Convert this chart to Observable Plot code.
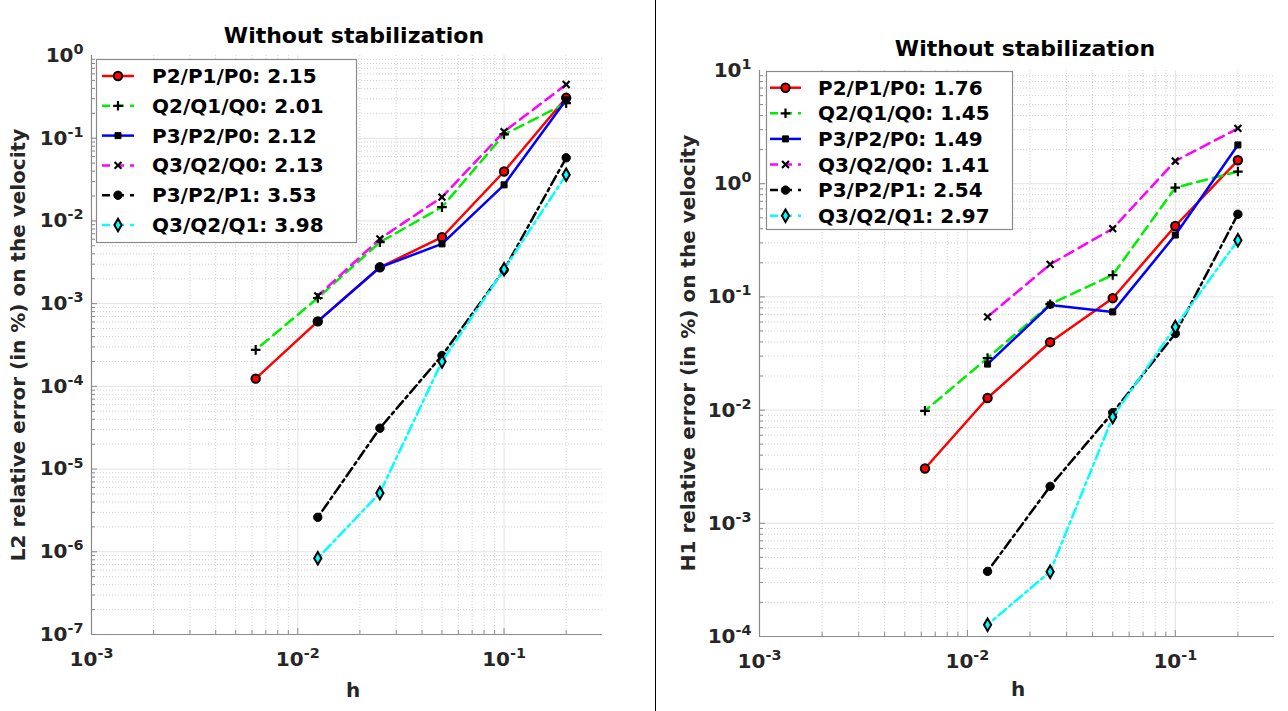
<!DOCTYPE html>
<html><head><meta charset="utf-8">
<script src="https://cdn.jsdelivr.net/npm/d3@7"></script>
<script src="https://cdn.jsdelivr.net/npm/@observablehq/plot@0.6"></script>
<style>
html,body{margin:0;padding:0;background:#fff;}
#root{position:relative;width:1288px;height:711px;overflow:hidden;font-family:"DejaVu Sans",sans-serif;}
#root > svg{position:absolute;}
</style></head><body><div id="root"></div>
<script>
// ---- data ----
const hValues = [0.2, 0.1, 0.05, 0.025, 0.0125, 0.00625];
const seriesNames = ["P2/P1/P0", "Q2/Q1/Q0", "P3/P2/P0", "Q3/Q2/Q0", "P3/P2/P1", "Q3/Q2/Q1"];

const l2_P2P1P0 = [0.308, 0.0396, 0.00635, 0.00275, 6.1e-4, 1.24e-4];
const l2_Q2Q1Q0 = [0.265, 0.111, 0.0147, 0.00553, 1.17e-3, 2.76e-4];
const l2_P3P2P0 = [0.291, 0.0273, 0.00528, 0.00275, 6.1e-4, null];
const l2_Q3Q2Q0 = [0.446, 0.12, 0.0194, 0.00607, 1.24e-3, null];
const l2_P3P2P1 = [0.058, 0.00256, 2.36e-4, 3.12e-5, 2.61e-6, null];
const l2_Q3Q2Q1 = [0.0361, 0.0026, 2.0e-4, 5.15e-6, 8.35e-7, null];
const l2Rates = ["2.15", "2.01", "2.12", "2.13", "3.53", "3.98"];

const h1_P2P1P0 = [1.61, 0.423, 0.0974, 0.0398, 0.0128, 3.05e-3];
const h1_Q2Q1Q0 = [1.28, 0.922, 0.156, 0.0862, 0.0288, 9.86e-3];
const h1_P3P2P0 = [2.2, 0.352, 0.0737, 0.085, 0.0255, null];
const h1_Q3Q2Q0 = [3.08, 1.585, 0.401, 0.194, 0.0666, null];
const h1_P3P2P1 = [0.537, 0.0474, 9.5e-3, 2.12e-3, 3.76e-4, null];
const h1_Q3Q2Q1 = [0.316, 0.0543, 8.7e-3, 3.74e-4, 1.27e-4, null];
const h1Rates = ["1.76", "1.45", "1.49", "1.41", "2.54", "2.97"];

const xTicks = [1e-3, 1e-2, 1e-1];
const l2YTicks = [1e-7, 1e-6, 1e-5, 1e-4, 1e-3, 1e-2, 1e-1, 1];
const h1YTicks = [1e-4, 1e-3, 1e-2, 1e-1, 1, 10];
const titleText = "Without stabilization";
const xLabel = "h";
const l2YLabel = "L2 relative error (in %) on the velocity";
const h1YLabel = "H1 relative error (in %) on the velocity";

// ---- styles ----
const seriesStyles = [
  {color: "#ff0000", dash: null,          symbol: "circle",  fill: "#ff0000", stroke: "#000", r: 4.2, sw: 2},
  {color: "#00ee00", dash: "10,6",        symbol: "plus",    fill: "none",    stroke: "#000", r: 3.2, sw: 2.2},
  {color: "#0000ff", dash: null,          symbol: "square",  fill: "#000",    stroke: "#000", r: 3.4, sw: 1},
  {color: "#ff00ff", dash: "10,6",        symbol: "times",   fill: "none",    stroke: "#000", r: 3.2, sw: 2.2},
  {color: "#000000", dash: "10,4,3,4",    symbol: "circle",  fill: "#000",    stroke: "#000", r: 4.2, sw: 1},
  {color: "#00ffff", dash: "10,4,3,4",    symbol: "diamond", fill: "#00ffff", stroke: "#000", r: 3.8, sw: 2}
];
const FONT = "DejaVu Sans";
const root = document.getElementById("root");

function minorTicks(lo, hi) {
  const out = [];
  for (let e = Math.floor(Math.log10(lo)); e < Math.ceil(Math.log10(hi)); e++)
    for (let m = 2; m <= 9; m++) { const v = +(m * Math.pow(10, e)).toPrecision(6); if (v > lo && v < hi) out.push(v); }
  return out;
}

function makePanel(cfg) {
  const rows = [];
  cfg.series.forEach((arr, s) => arr.forEach((v, i) => { if (v != null) rows.push({h: hValues[i], v, s}); }));
  const fw = cfg.width - cfg.ml - cfg.mr, fh = cfg.height - cfg.mt - cfg.mb;
  const xd = [1e-3, 0.3];
  const yd = [cfg.yTicks[0], cfg.yTicks[cfg.yTicks.length - 1]];
  const xMinor = minorTicks(xd[0], xd[1]);
  const yMinor = minorTicks(yd[0], yd[1]);
  const xMajor = xTicks.filter(d => d > xd[0]);
  const yMajor = cfg.yTicks.filter(d => d > yd[0] && d < yd[1]);
  const marks = [
    Plot.ruleX(xMinor, {stroke: "#d2d2d2", strokeDasharray: "1,2"}),
    Plot.ruleY(yMinor, {stroke: "#d2d2d2", strokeDasharray: "1,2"}),
    Plot.ruleX(xMajor, {stroke: "#e2e2e2"}),
    Plot.ruleY(yMajor, {stroke: "#e2e2e2"}),
    Plot.ruleX([xd[0]], {stroke: "#8a8a8a", strokeWidth: 1.2}),
    Plot.ruleY([yd[0]], {stroke: "#8a8a8a", strokeWidth: 1.2}),
    Plot.ruleX(xMajor, {stroke: "#8a8a8a", insetTop: fh - 6}),
    Plot.ruleX(xMinor, {stroke: "#8a8a8a", insetTop: fh - 4}),
    Plot.ruleY(yMajor, {stroke: "#8a8a8a", insetRight: fw - 6}),
    Plot.ruleY(yMinor, {stroke: "#8a8a8a", insetRight: fw - 4})
  ];
  seriesStyles.forEach((st, s) => {
    const d = rows.filter(r => r.s === s);
    marks.push(Plot.line(d, {x: "h", y: "v", stroke: st.color, strokeWidth: 2.5, strokeDasharray: st.dash || undefined}));
    marks.push(Plot.dot(d, {x: "h", y: "v", symbol: () => st.symbol, r: st.r, fill: st.fill, stroke: st.stroke, strokeWidth: st.sw}));
  });
  marks.push(Plot.axisX(xTicks, {label: null, tickSize: 0, tickPadding: 17, tickFormat: d => "10^" + Math.round(Math.log10(d)), fill: "#262626"}));
  marks.push(Plot.axisY(cfg.yTicks, {label: null, tickSize: 0, tickPadding: 8, tickFormat: d => "10^" + Math.round(Math.log10(d)), fill: "#262626"}));
  const svg = Plot.plot({
    width: cfg.width, height: cfg.height,
    marginLeft: cfg.ml, marginRight: cfg.mr, marginTop: cfg.mt, marginBottom: cfg.mb,
    x: {type: "log", domain: xd, label: null},
    y: {type: "log", domain: yd, label: null},
    style: {fontFamily: FONT, fontSize: "20px", fontWeight: "bold", background: "transparent", overflow: "visible"},
    marks
  });
  d3.select(svg).selectAll('g[aria-label="x-axis tick label"] text, g[aria-label="y-axis tick label"] text').each(function () {
    const m = this.textContent.match(/^10\^(-?\d+)$/);
    if (!m) return;
    const t = d3.select(this);
    t.text(null);
    t.append("tspan").text("10");
    t.append("tspan").attr("dy", "-0.55em").attr("font-size", "0.72em").text(m[1]);
  });
  svg.style.left = cfg.left + "px";
  svg.style.top = "0px";
  root.appendChild(svg);
}

makePanel({left: 0, width: 655, height: 711, ml: 91, mr: 53, mt: 55, mb: 77,
  yTicks: l2YTicks, series: [l2_P2P1P0, l2_Q2Q1Q0, l2_P3P2P0, l2_Q3Q2Q0, l2_P3P2P1, l2_Q3Q2Q1]});
makePanel({left: 656, width: 632, height: 711, ml: 103, mr: 14, mt: 70, mb: 75,
  yTicks: h1YTicks, series: [h1_P2P1P0, h1_Q2Q1Q0, h1_P3P2P0, h1_Q3Q2Q0, h1_P3P2P1, h1_Q3Q2Q1]});

// ---- overlay: titles, labels, legends, divider ----
const ov = d3.select(root).append("svg").attr("width", 1288).attr("height", 711)
  .style("left", "0px").style("top", "0px")
  .attr("font-family", FONT).attr("font-weight", "bold");
ov.append("line").attr("x1", 655.5).attr("x2", 655.5).attr("y1", 0).attr("y2", 711).attr("stroke", "#000").attr("stroke-width", 1);

function labels(cx, ty, yl, ylx, yly, xlx, xly) {
  ov.append("text").attr("x", cx).attr("y", ty).attr("text-anchor", "middle").attr("dominant-baseline", "central")
    .attr("font-size", 22).attr("fill", "#000").text(titleText);
  ov.append("text").attr("transform", `translate(${ylx},${yly}) rotate(-90)`).attr("text-anchor", "middle")
    .attr("dominant-baseline", "central").attr("font-size", 20).attr("fill", "#262626").text(yl);
  ov.append("text").attr("x", xlx).attr("y", xly).attr("text-anchor", "middle").attr("dominant-baseline", "central")
    .attr("font-size", 20).attr("fill", "#262626").text(xLabel);
}
labels(354, 35, l2YLabel, 18, 345, 353, 690);
labels(1025, 48, h1YLabel, 688, 353, 1018, 689);

const symMap = {circle: d3.symbolCircle, plus: d3.symbolPlus, square: d3.symbolSquare, times: d3.symbolTimes, diamond: d3.symbolDiamond};
function legend(bx, by, bw, bh, y0, step, lx1, lx2, tx, rates) {
  ov.append("rect").attr("x", bx).attr("y", by).attr("width", bw).attr("height", bh)
    .attr("fill", "#fff").attr("stroke", "#8a8a8a").attr("stroke-width", 1.2);
  seriesStyles.forEach((st, i) => {
    const y = y0 + i * step;
    ov.append("line").attr("x1", lx1).attr("x2", lx2).attr("y1", y).attr("y2", y)
      .attr("stroke", st.color).attr("stroke-width", 2.5).attr("stroke-dasharray", st.dash ? "8,6" : null);
    ov.append("path").attr("transform", `translate(${(lx1 + lx2) / 2},${y})`)
      .attr("d", d3.symbol(symMap[st.symbol], Math.PI * st.r * st.r)())
      .attr("fill", st.fill).attr("stroke", st.stroke).attr("stroke-width", st.sw);
    ov.append("text").attr("x", tx).attr("y", y).attr("dominant-baseline", "central")
      .attr("font-size", 20).attr("fill", "#000").text(`${seriesNames[i]}: ${rates[i]}`);
  });
}
legend(96.5, 59.5, 260, 183, 76, 29.8, 102, 134, 152, l2Rates);
legend(766.5, 71.5, 246, 158, 87.7, 25.6, 770, 801, 818, h1Rates);
</script></body></html>
